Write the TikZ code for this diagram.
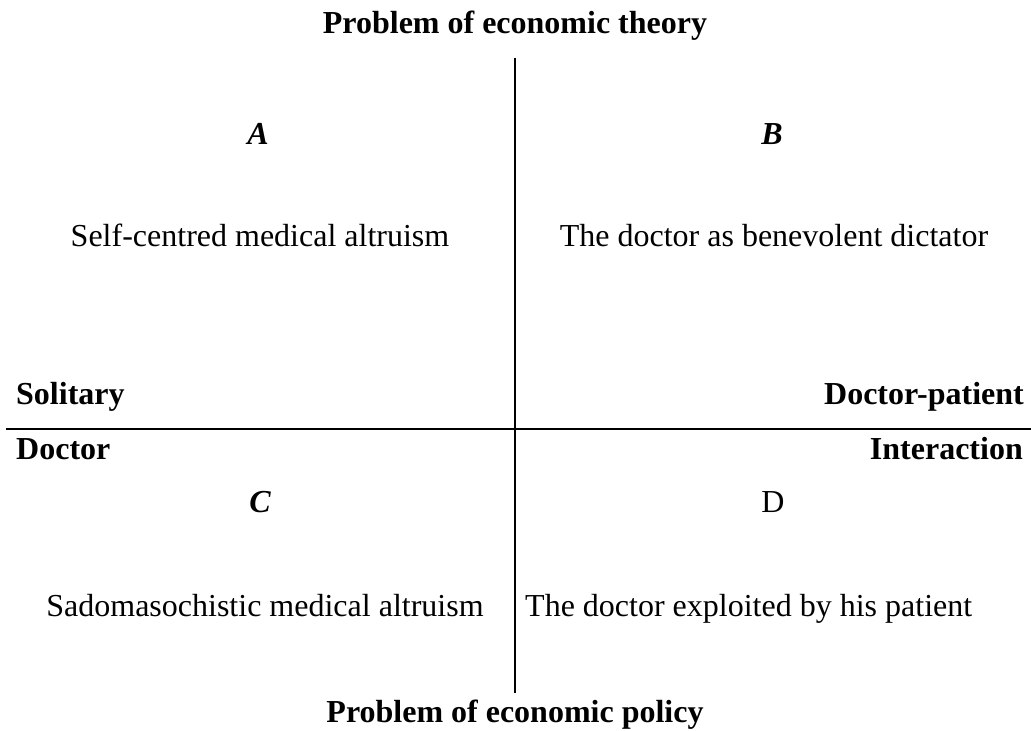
\documentclass[tikz,border=0pt]{standalone}
\usepackage{fontspec}
\setmainfont{Liberation Serif}

\begin{document}
\begin{tikzpicture}[x=1pt, y=-1pt, font=\fontsize{32}{38}\selectfont,
    every node/.style={anchor=base, inner sep=0pt},
    axislabel/.style={font=\fontsize{32}{38}\selectfont\bfseries},
    quadletter/.style={font=\fontsize{32}{38}\selectfont\bfseries\itshape}]
    \useasboundingbox (0, 0) rectangle (1031, 731);

    % Draw the axes
    \coordinate (top) at (515, 58);
    \coordinate (bottom) at (515, 693);
    \coordinate (left) at (6, 429);
    \coordinate (right) at (1031, 429);
    \draw[line width=1.4pt] (top) -- (bottom);
    \draw[line width=1.4pt] (left) -- (right);

    % Axis labels
    \node[axislabel] (theory) at (515, 33) {Problem of economic theory};
    \node[axislabel] (policy) at (515, 722) {Problem of economic policy};
    \node[axislabel, anchor=base west] (solitary) at (16, 404) {Solitary};
    \node[axislabel, anchor=base west] (doctor) at (16, 459) {Doctor};
    \node[axislabel, anchor=base east] (docpat) at (1024, 404) {Doctor-patient};
    \node[axislabel, anchor=base east] (interaction) at (1023, 459) {Interaction};

    % Quadrants
    \node[quadletter] (A) at (258, 144) {A};
    \node[quadletter] (B) at (772, 144) {B};
    \node[quadletter] (C) at (260, 512) {C};
    \node (D) at (773, 512) {D};

    \node (selfcentred) at (260, 246) {Self-centred medical altruism};
    \node (dictator) at (774, 246) {The doctor as benevolent dictator};
    \node (sadomaso) at (265, 616) {Sadomasochistic medical altruism};
    \node[anchor=base west] (exploited) at (525, 616) {The doctor exploited by his patient};
\end{tikzpicture}
\end{document}
